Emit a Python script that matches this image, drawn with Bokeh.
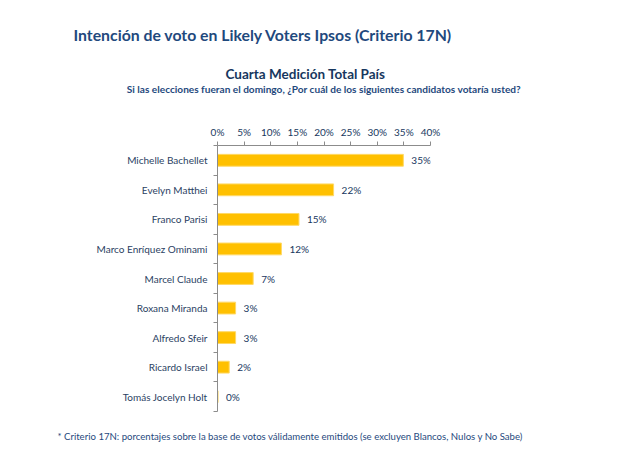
from bokeh.plotting import figure
from bokeh.models import FixedTicker, ColumnDataSource, Title
from bokeh.core.properties import value
from bokeh.embed import file_html
from bokeh.resources import INLINE

candidates = ["Michelle Bachellet", "Evelyn Matthei", "Franco Parisi", "Marco Enríquez Ominami",
              "Marcel Claude", "Roxana Miranda", "Alfredo Sfeir", "Ricardo Israel", "Tomás Jocelyn Holt"]
votes = [34.9, 21.8, 15.3, 12.0, 6.7, 3.4, 3.4, 2.2, 0.1]
vote_labels = ["35%", "22%", "15%", "12%", "7%", "3%", "3%", "2%", "0%"]
x_ticks = [0, 5, 10, 15, 20, 25, 30, 35, 40]

FONT = "Lato"
BLUE = "#1F497D"
DARK = "#17375E"
LBL = "#2B3F63"

idx = list(range(len(candidates)))
src = ColumnDataSource(dict(y=idx, v=votes, lab=vote_labels))

W, H = 614, 460
FL, FR, FT, FB = 217, 430, 141, 411
p = figure(width=W, height=H, x_range=(0, 40), y_range=(len(candidates) - 0.5, -0.5),
           output_backend="svg", toolbar_location=None, x_axis_location="above",
           min_border_left=FL, min_border_right=W - FR, min_border_top=FT, min_border_bottom=H - FB)
p.outline_line_color = None
p.grid.visible = False

p.hbar(y="y", right="v", left=0, height=0.4, source=src, fill_color="#FFC000", line_color="#FFD966", line_width=1)
p.text(x="v", y="y", text="lab", source=src, x_offset=8, text_baseline="middle", text_align="left",
       text_font=value(FONT), text_font_size="10px", text_color=DARK)

xa = p.xaxis[0]
xa.ticker = FixedTicker(ticks=x_ticks)
xa.major_label_overrides = {t: f"{t}%" for t in x_ticks}
xa.axis_line_color = "#8C8C8C"
xa.major_tick_line_color = "#8C8C8C"
xa.major_tick_out = 4
xa.major_tick_in = 0
xa.minor_tick_line_color = None
xa.major_label_text_font = FONT
xa.major_label_text_font_size = "10px"
xa.major_label_text_color = DARK
xa.major_label_standoff = 4
# the survey question sits above the percentage scale
xa.axis_label = "Si las elecciones fueran el domingo, ¿Por cuál de los siguientes candidatos votaría usted?"
xa.axis_label_text_font = FONT
xa.axis_label_text_font_size = "10.1px"
xa.axis_label_text_font_style = "bold"
xa.axis_label_text_color = BLUE
xa.axis_label_standoff = 28

ya = p.yaxis[0]
ya.ticker = FixedTicker(ticks=idx, minor_ticks=[i - 0.5 for i in range(len(candidates) + 1)])
ya.major_label_overrides = {i: c for i, c in enumerate(candidates)}
ya.axis_line_color = "#8C8C8C"
ya.major_tick_line_color = None
ya.major_tick_out = 0
ya.major_tick_in = 0
ya.minor_tick_line_color = "#8C8C8C"
ya.minor_tick_out = 4
ya.minor_tick_in = 0
ya.major_label_text_font = FONT
ya.major_label_text_font_size = "10px"
ya.major_label_text_color = LBL
ya.major_label_standoff = 6

t_main = Title(text="Intención de voto  en Likely Voters Ipsos (Criterio 17N)", align="left",
               offset=73 - FL, text_font=FONT, text_font_size="15.8px", text_font_style="bold",
               text_color=BLUE, standoff=44)
t_sub = Title(text="Cuarta Medición Total País", align="left", offset=225 - FL,
              text_font=FONT, text_font_size="13.5px", text_font_style="bold", text_color=DARK, standoff=-4)
p.add_layout(t_sub, "above")
p.add_layout(t_main, "above")

t_foot = Title(text="* Criterio 17N: porcentajes sobre la base de votos válidamente emitidos (se excluyen Blancos, Nulos y  No Sabe)",
               align="left", offset=57 - FL, text_font=FONT, text_font_size="9.6px", text_font_style="normal",
               text_color=BLUE, standoff=35)
p.add_layout(t_foot, "below")

open("out.html", "w").write(file_html(p, INLINE))
